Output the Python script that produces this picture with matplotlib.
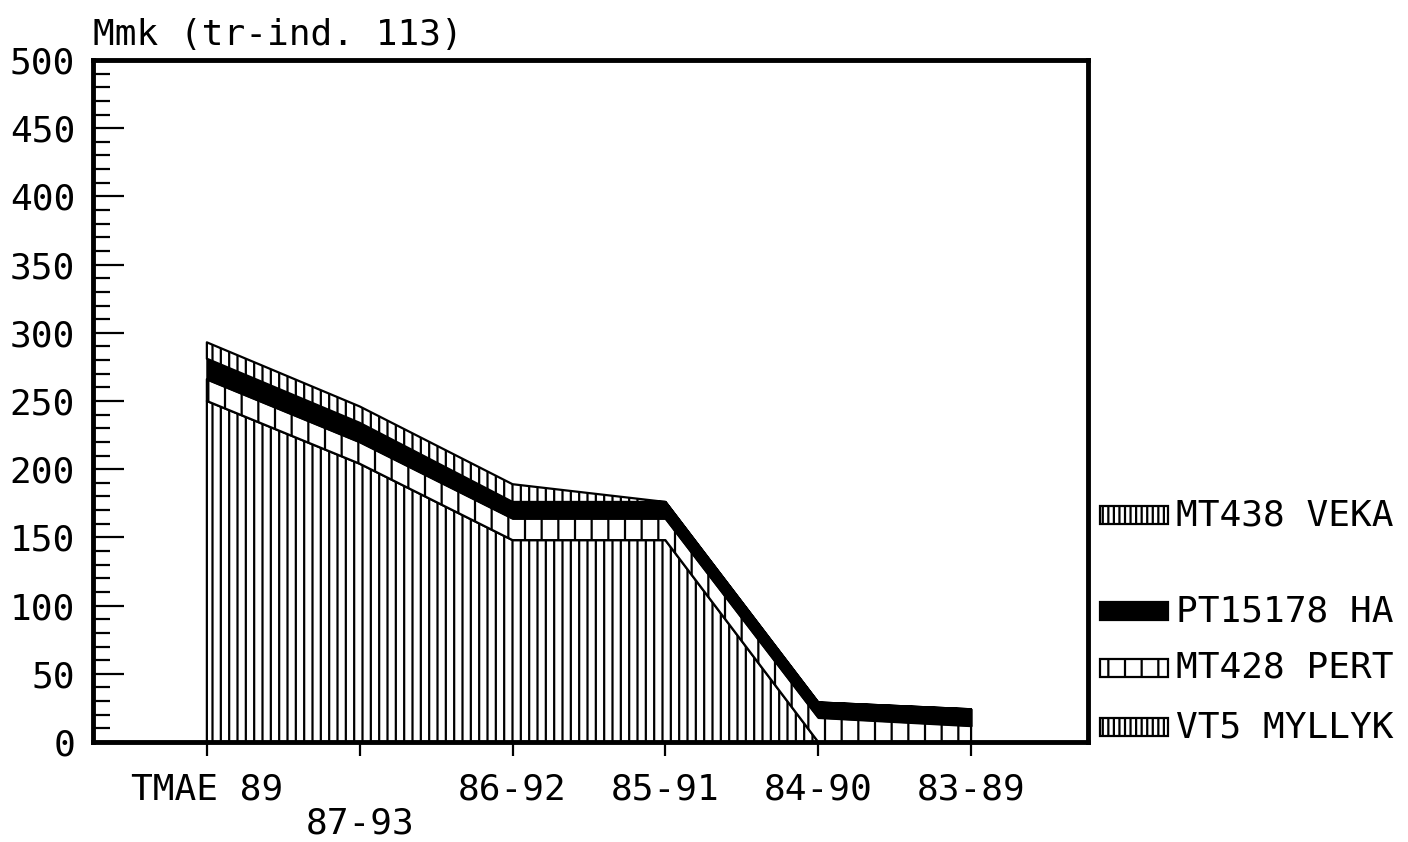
import matplotlib
matplotlib.use("Agg")
import matplotlib.pyplot as plt
import numpy as np
from matplotlib.patches import Rectangle

categories = ["TMAE 89", "87-93", "86-92", "85-91", "84-90", "83-89"]
vt5_myllyk = [250, 204, 148, 148, 0, 0]
mt428_pert = [16, 16, 16, 16, 18, 12]
pt15178_ha = [15, 14, 12, 12, 11, 12]
mt438_veka = [12, 12, 13, 0, 0, 0]
y_label = "Mmk (tr-ind. 113)"
legend_labels = ["MT438 VEKA", "PT15178 HA", "MT428 PERT", "VT5 MYLLYK"]

plt.rcParams['font.family'] = ['DejaVu Sans Mono', 'DejaVu Sans']
plt.rcParams['hatch.linewidth'] = 1.6
FS = 26

fig = plt.figure(figsize=(14.08, 8.42), dpi=100)
ax = fig.add_axes([93/1408, 100/842, (1088-93)/1408, (742-60)/842])

x = np.arange(len(categories))
b0 = np.zeros(len(x))
b1 = b0 + np.array(vt5_myllyk)
b2 = b1 + np.array(mt428_pert)
b3 = b2 + np.array(pt15178_ha)
b4 = b3 + np.array(mt438_veka)

layers = [
    (b0, b1, '||', 'white'),
    (b1, b2, '|', 'white'),
    (b2, b3, None, 'black'),
    (b3, b4, '||', 'white'),
]
for lo, hi, hatch, fc in layers:
    ax.fill_between(x, lo, hi, facecolor=fc, edgecolor='black', hatch=hatch,
                    linewidth=1.6, zorder=2)

ax.set_xlim(-0.745, 5.765)
ax.set_ylim(0, 500)
ax.set_yticks(np.arange(0, 501, 50))
ax.set_yticks(np.arange(0, 501, 10), minor=True)
ax.set_xticks(x)
labels = [c if i != 1 else "\n" + c for i, c in enumerate(categories)]
ax.set_xticklabels(labels, fontsize=FS)
for t in ax.get_xticklabels():
    t.set_linespacing(1.0)
ax.tick_params(axis='y', which='major', direction='in', length=22, width=1.6,
               labelsize=FS, pad=13)
ax.tick_params(axis='y', which='minor', direction='in', length=12, width=1.6)
ax.tick_params(axis='x', direction='out', length=10, width=1.6, pad=12)
for s in ax.spines.values():
    s.set_linewidth(3.5)
    s.set_zorder(5)

ax.text(0.0, 1.012, y_label, transform=ax.transAxes, fontsize=FS,
        ha='left', va='bottom')

# legend built manually (uneven spacing as in the original)
hatches = ['|||', None, '|', '|||']
fcs = ['white', 'black', 'white', 'white']
ycent = [515, 611, 668, 727]
for lab, h, fc, yc in zip(legend_labels, hatches, fcs, ycent):
    y0 = 1 - (yc + 9) / 842
    r = Rectangle((1100/1408, y0), 68/1408, 18/842, transform=fig.transFigure,
                  facecolor=fc, edgecolor='black', hatch=h, linewidth=1.6)
    fig.add_artist(r)
    fig.text(1176/1408, 1 - yc/842, lab, fontsize=FS, ha='left', va='center')

fig.savefig("out.png", dpi=100)
